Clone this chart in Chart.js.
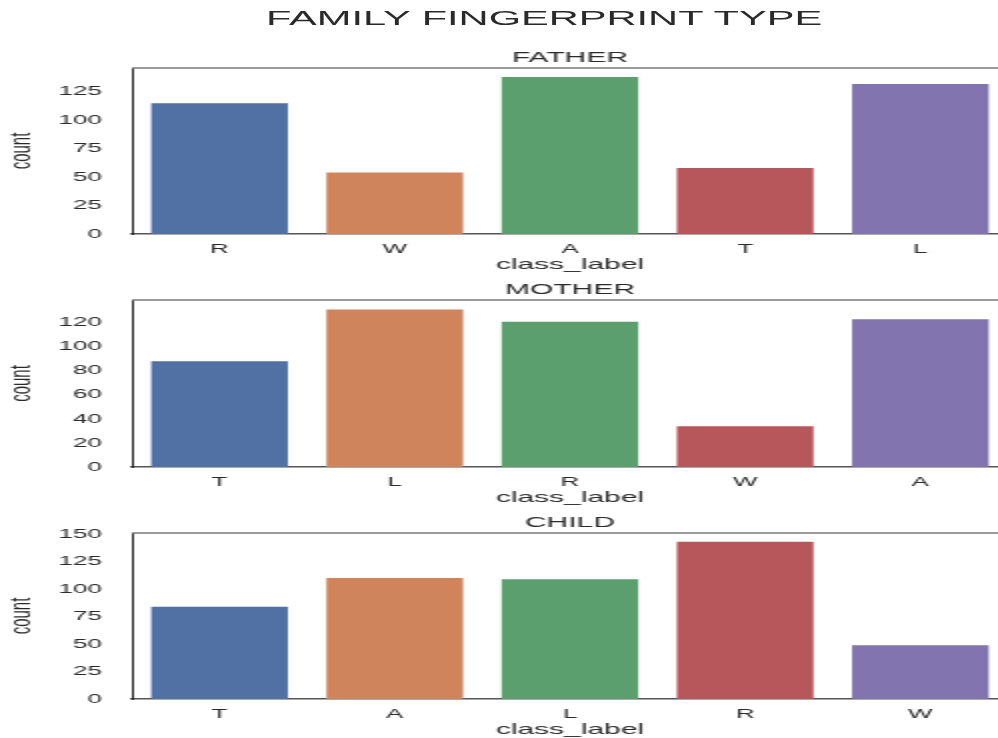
<!DOCTYPE html>
<html>
<head>
<meta charset="utf-8">
<title>Family fingerprint type</title>
<script src="https://cdn.jsdelivr.net/npm/chart.js@4.4.0/dist/chart.umd.min.js"></script>
<style>
  html, body { margin: 0; padding: 0; background: #fff; overflow: hidden; }
  /* the reference figure is stretched sideways, so draw at half width and scale */
  #figure { position: relative; width: 510px; height: 738px; transform: scaleX(2); transform-origin: 0 0; }
  #figure canvas { position: absolute; left: 0; }
  #suptitle {
    position: absolute; left: 133px; top: 6px; line-height: 24px;
    font: 20.8px 'Liberation Sans', Arial, sans-serif;
    color: #2a2a2a; white-space: nowrap;
  }
</style>
</head>
<body>
<div id="figure">
  <div id="suptitle">FAMILY FINGERPRINT TYPE</div>
  <canvas id="father" width="510" height="274" style="top:0"></canvas>
  <canvas id="mother" width="510" height="233" style="top:274px"></canvas>
  <canvas id="child" width="510" height="232" style="top:507px"></canvas>
</div>
<script>
const fatherLabels = ['R', 'W', 'A', 'T', 'L'];
const fatherCounts = [115, 54, 138, 58, 132];

const motherLabels = ['T', 'L', 'R', 'W', 'A'];
const motherCounts = [88, 131, 121, 34, 123];

const childLabels = ['T', 'A', 'L', 'R', 'W'];
const childCounts = [84, 110, 109, 143, 49];

// axis ranges per panel: father, mother, child
const yMax = [146, 139, 151];
const yStep = [25, 20, 25];

const palette = ['#5171a5', '#d0845c', '#5a9f6d', '#b8575b', '#8274ae'];
const textColor = '#2a2a2a';
const fontFamily = "'Liberation Sans', Arial, sans-serif";

// top and right spines of the axes box
const framePlugin = {
  id: 'frame',
  afterDraw(chart) {
    const { ctx, chartArea: a } = chart;
    ctx.save();
    ctx.strokeStyle = '#7a7a7a';
    ctx.lineWidth = 1.5;
    ctx.beginPath();
    ctx.moveTo(a.left, a.top);
    ctx.lineTo(a.right, a.top);
    ctx.lineTo(a.right, a.bottom);
    ctx.stroke();
    ctx.restore();
  }
};

function drawPanel(id, title, labels, counts, max, step, titleTop) {
  new Chart(document.getElementById(id), {
    type: 'bar',
    data: {
      labels,
      datasets: [{
        data: counts,
        backgroundColor: palette,
        borderWidth: 0,
        barPercentage: 0.78,
        categoryPercentage: 1
      }]
    },
    options: {
      responsive: false,
      animation: false,
      layout: { padding: { top: 0, right: 6, left: 0, bottom: 0 } },
      plugins: {
        legend: { display: false },
        tooltip: { enabled: false },
        title: {
          display: true,
          text: title,
          fullSize: false,
          color: textColor,
          font: { family: fontFamily, size: 15, weight: 'normal' },
          padding: { top: titleTop, bottom: 1 }
        }
      },
      scales: {
        x: {
          grid: { display: false, drawTicks: false },
          border: { color: '#555', width: 1.5 },
          ticks: { color: textColor, padding: 8, font: { family: fontFamily, size: 13 } },
          title: {
            display: true,
            text: 'class_label',
            color: textColor,
            font: { family: fontFamily, size: 15 },
            padding: 0
          },
          afterFit(s) { s.height = 40; }
        },
        y: {
          min: 0,
          max,
          grid: { display: false, drawTicks: false },
          border: { color: '#222', width: 1 },
          ticks: {
            stepSize: step,
            includeBounds: false,
            padding: 15,
            color: textColor,
            font: { family: fontFamily, size: 13 }
          },
          title: {
            display: true,
            text: 'count',
            color: textColor,
            font: { family: fontFamily, size: 15 },
            padding: { top: 2, bottom: 0 }
          },
          afterFit(s) { s.width = 66; }
        }
      }
    },
    plugins: [framePlugin]
  });
}

drawPanel('father', 'FATHER', fatherLabels, fatherCounts, yMax[0], yStep[0], 49);
drawPanel('mother', 'MOTHER', motherLabels, motherCounts, yMax[1], yStep[1], 7);
drawPanel('child', 'CHILD', childLabels, childCounts, yMax[2], yStep[2], 7);
</script>
</body>
</html>
